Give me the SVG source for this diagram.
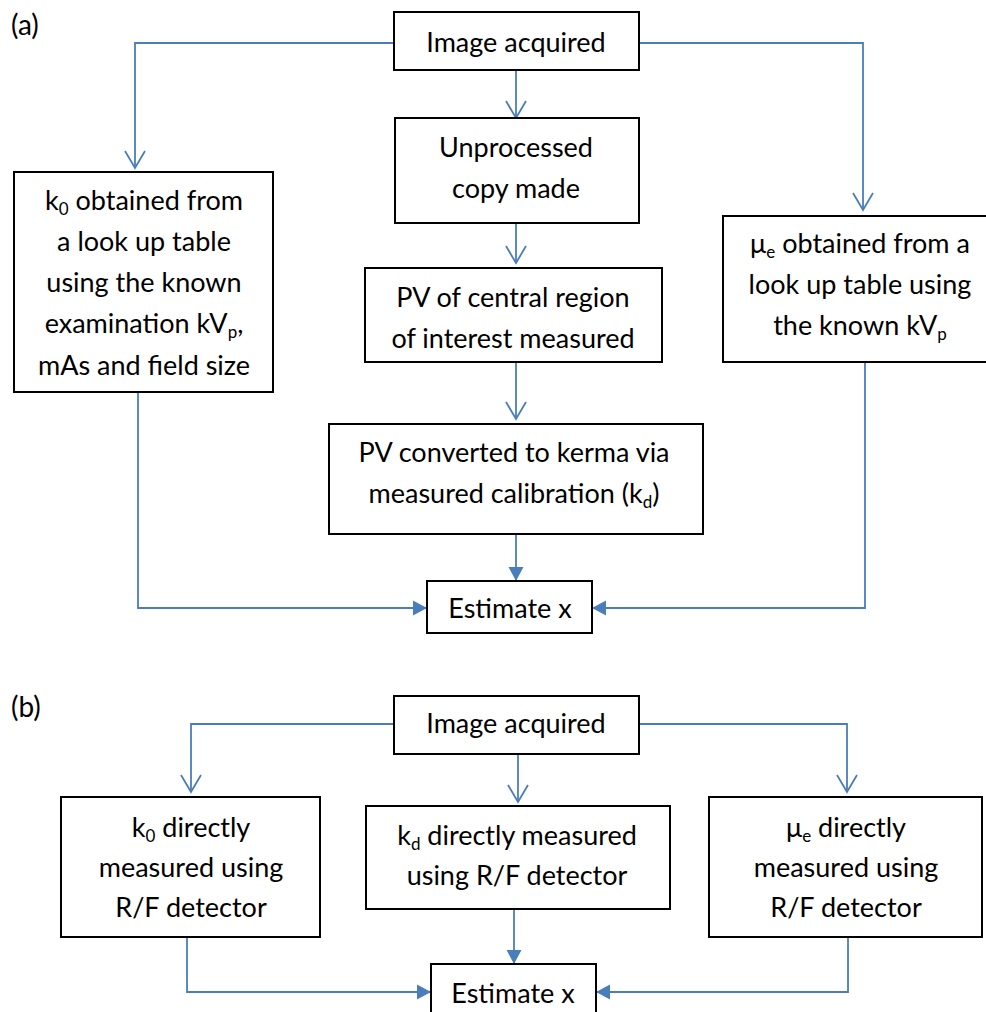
<svg xmlns="http://www.w3.org/2000/svg" width="986" height="1012" viewBox="0 0 986 1012">
<style>
.box{fill:#fff;stroke:#000;stroke-width:2}
.t{font-family:Lato,"Liberation Sans",sans-serif;font-size:27px;fill:#000;text-anchor:middle}
.lbl{font-family:Lato,"Liberation Sans",sans-serif;font-size:28px;fill:#000}
.c{fill:none;stroke:#4a7ebb;stroke-width:1.8}
.o{marker-end:url(#open)}
.f{marker-end:url(#fill)}
.sub{font-size:17px}
</style>
<defs>
<marker id="open" markerUnits="userSpaceOnUse" viewBox="-1 -11 20 22" refX="17" refY="0" markerWidth="20" markerHeight="22" orient="auto">
<path d="M0,-10 L17,0 L0,10" fill="none" stroke="#4a7ebb" stroke-width="1.8"/>
</marker>
<marker id="fill" markerUnits="userSpaceOnUse" viewBox="0 -8 15 16" refX="14" refY="0" markerWidth="15" markerHeight="16" orient="auto">
<path d="M0,-7.5 L14,0 L0,7.5 Z" fill="#4a7ebb"/>
</marker>
</defs>

<text class="lbl" x="11" y="35">(a)</text>
<text class="lbl" x="11" y="717">(b)</text>

<g id="connectors">
<path class="c o" d="M394,43 H135 V168"/>
<path class="c o" d="M639,43 H863 V210"/>
<path class="c o" d="M516,70 V118"/>
<path class="c o" d="M516,223 V263"/>
<path class="c o" d="M516,362 V419"/>
<path class="c f" d="M516,534 V581"/>
<path class="c f" d="M138,392 V608 H427"/>
<path class="c f" d="M865,362 V608 H592"/>

<path class="c o" d="M394,724 H191 V792"/>
<path class="c o" d="M518,754 V802"/>
<path class="c o" d="M639,724 H847 V792"/>
<path class="c f" d="M514,909 V964"/>
<path class="c f" d="M187,937 V992 H431"/>
<path class="c f" d="M848,937 V992 H596"/>
</g>

<g id="a-image">
<rect class="box" x="394" y="12" width="245" height="58"/>
<text class="t" x="516" y="52">Image acquired</text>
</g>
<g id="a-unprocessed">
<rect class="box" x="395" y="118" width="244" height="105"/>
<text class="t" x="516" y="157">Unprocessed</text>
<text class="t" x="516" y="198">copy made</text>
</g>
<g id="a-pv-central">
<rect class="box" x="365" y="268" width="297" height="94"/>
<text class="t" x="513" y="307">PV of central region</text>
<text class="t" x="513" y="348">of interest measured</text>
</g>
<g id="a-pv-converted">
<rect class="box" x="329" y="424" width="374" height="110"/>
<text class="t" x="514" y="462">PV converted to kerma via</text>
<text class="t" x="514" y="503">measured calibration (k<tspan class="sub" dy="5">d</tspan><tspan dy="-5">)</tspan></text>
</g>
<g id="a-k0">
<rect class="box" x="14" y="172" width="259" height="220"/>
<text class="t" x="144" y="210">k<tspan class="sub" dy="5">0</tspan><tspan dy="-5"> obtained from</tspan></text>
<text class="t" x="144" y="251">a look up table</text>
<text class="t" x="144" y="292">using the known</text>
<text class="t" x="144" y="333">examination kV<tspan class="sub" dy="5">p</tspan><tspan dy="-5">,</tspan></text>
<text class="t" x="144" y="375">mAs and field size</text>
</g>
<g id="a-mu">
<rect class="box" x="723" y="216" width="275" height="146"/>
<text class="t" x="860" y="253">μ<tspan class="sub" dy="5">e</tspan><tspan dy="-5"> obtained from a</tspan></text>
<text class="t" x="860" y="294">look up table using</text>
<text class="t" x="860" y="335">the known kV<tspan class="sub" dy="5">p</tspan></text>
</g>
<g id="a-estimate">
<rect class="box" x="427" y="581" width="165" height="52"/>
<text class="t" x="510" y="618">Estimate x</text>
</g>

<g id="b-image">
<rect class="box" x="394" y="696" width="245" height="58"/>
<text class="t" x="516" y="733">Image acquired</text>
</g>
<g id="b-k0">
<rect class="box" x="61" y="797" width="259" height="140"/>
<text class="t" x="191" y="837">k<tspan class="sub" dy="5">0</tspan><tspan dy="-5"> directly</tspan></text>
<text class="t" x="191" y="877">measured using</text>
<text class="t" x="191" y="917">R/F detector</text>
</g>
<g id="b-kd">
<rect class="box" x="366" y="806" width="304" height="103"/>
<text class="t" x="517" y="845">k<tspan class="sub" dy="5">d</tspan><tspan dy="-5"> directly measured</tspan></text>
<text class="t" x="517" y="885">using R/F detector</text>
</g>
<g id="b-mu">
<rect class="box" x="709" y="797" width="273" height="140"/>
<text class="t" x="846" y="837">μ<tspan class="sub" dy="5">e</tspan><tspan dy="-5"> directly</tspan></text>
<text class="t" x="846" y="877">measured using</text>
<text class="t" x="846" y="917">R/F detector</text>
</g>
<g id="b-estimate">
<rect class="box" x="431" y="964" width="165" height="60"/>
<text class="t" x="513" y="1003">Estimate x</text>
</g>
</svg>
